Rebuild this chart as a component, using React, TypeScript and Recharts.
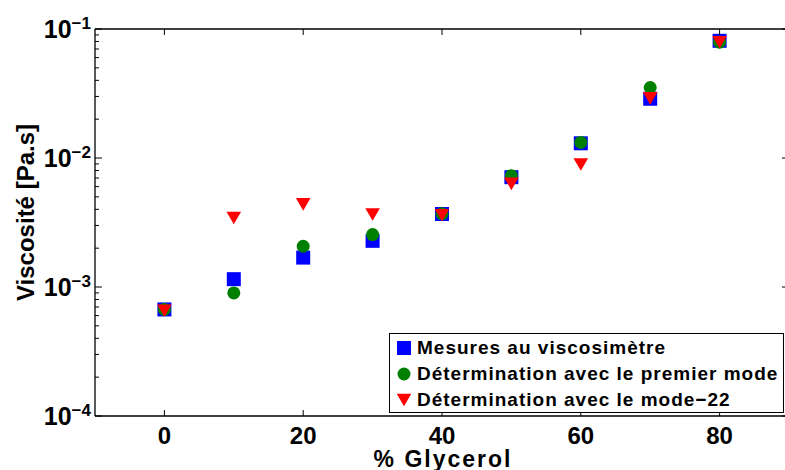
import React from "react";
import { ScatterChart, Scatter, XAxis, YAxis, Legend } from "recharts";

// % glycerol in the mixture
const glycerol = [0, 10, 20, 30, 40, 50, 60, 70, 80];

// viscosity in Pa.s
const viscosimetre = [6.7e-4, 1.15e-3, 1.69e-3, 2.28e-3, 3.68e-3, 7.1e-3, 1.3e-2, 2.88e-2, 8.1e-2];
const premierMode = [6.7e-4, 9.0e-4, 2.07e-3, 2.55e-3, 3.7e-3, 7.3e-3, 1.32e-2, 3.52e-2, 7.9e-2];
const mode22 = [6.55e-4, 3.43e-3, 4.37e-3, 3.65e-3, 3.6e-3, 6.3e-3, 8.9e-3, 2.9e-2, 7.9e-2];

const xTicks = [0, 20, 40, 60, 80];
const yTicks = [
  1e-4, 2e-4, 3e-4, 4e-4, 5e-4, 6e-4, 7e-4, 8e-4, 9e-4,
  1e-3, 2e-3, 3e-3, 4e-3, 5e-3, 6e-3, 7e-3, 8e-3, 9e-3,
  1e-2, 2e-2, 3e-2, 4e-2, 5e-2, 6e-2, 7e-2, 8e-2, 9e-2,
  1e-1,
];

const FONT = "'Liberation Sans', Arial, Helvetica, sans-serif";

const toPoints = (vals: number[]) => glycerol.map((x, i) => ({ x, y: vals[i] }));

const isMajor = (v: number) => {
  const l = Math.log10(v);
  return Math.abs(l - Math.round(l)) < 1e-6;
};

const Square = ({ cx, cy }: any) => (
  <rect x={cx - 7} y={cy - 7} width={14} height={14} fill="#0000ff" />
);
const Dot = ({ cx, cy }: any) => <circle cx={cx} cy={cy} r={6.5} fill="#008000" />;
const TriDown = ({ cx, cy }: any) => (
  <path d={`M${cx - 7.3},${cy - 6.3}L${cx + 7.3},${cy - 6.3}L${cx},${cy + 6.3}Z`} fill="#ff0000" />
);

const series = [
  { name: "Mesures au viscosimètre", data: toPoints(viscosimetre), shape: Square },
  { name: "Détermination avec le premier mode", data: toPoints(premierMode), shape: Dot },
  { name: "Détermination avec le mode\u221222", data: toPoints(mode22), shape: TriDown },
];

const BottomTick = ({ x, y, payload }: any) => (
  <g>
    <line x1={x} y1={y} x2={x} y2={y - 6} stroke="#000" strokeWidth={1} />
    <text x={x} y={y + 28} textAnchor="middle" fontSize={24} fontWeight="bold" fontFamily={FONT} fill="#000">
      {payload.value}
    </text>
  </g>
);

const TopTick = ({ x, y }: any) => (
  <line x1={x} y1={y} x2={x} y2={y + 6} stroke="#000" strokeWidth={1} />
);

const LeftTick = ({ x, y, payload }: any) => {
  const major = isMajor(payload.value);
  if (!major) return <line x1={x} y1={y} x2={x + 4} y2={y} stroke="#000" strokeWidth={1} />;
  const exp = Math.round(Math.log10(payload.value));
  return (
    <g>
      <line x1={x} y1={y} x2={x + 7} y2={y} stroke="#000" strokeWidth={1} />
      <text x={x - 4} y={y + 9} textAnchor="end" fontWeight="bold" fontFamily={FONT} fill="#000">
        <tspan fontSize={25}>10</tspan>
        <tspan fontSize={17} dy={-9}>{"\u2212" + Math.abs(exp)}</tspan>
      </text>
    </g>
  );
};

const RightTick = ({ x, y, payload }: any) => {
  const len = isMajor(payload.value) ? 7 : 4;
  return <line x1={x} y1={y} x2={x - len} y2={y} stroke="#000" strokeWidth={1} />;
};

const LegendBox = () => (
  <div
    style={{
      width: 395,
      height: 80,
      boxSizing: "border-box",
      border: "1.3px solid #000",
      background: "#fff",
      paddingTop: 1,
      fontFamily: FONT,
      fontWeight: "bold",
      fontSize: 19,
      letterSpacing: 1,
      color: "#000",
    }}
  >
    {series.map((s) => {
      const Shape = s.shape;
      return (
        <div key={s.name} style={{ display: "flex", alignItems: "center", height: 26, whiteSpace: "nowrap" }}>
          <svg width={16} height={16} style={{ marginLeft: 6, marginRight: 5, flex: "none" }}>
            <Shape cx={8} cy={8} />
          </svg>
          <span style={{ lineHeight: "26px" }}>{s.name}</span>
        </div>
      );
    })}
  </div>
);

export default function App() {
  return (
    <div style={{ position: "relative", width: 785, height: 470, overflow: "hidden", background: "#fff" }}>
      <style>{`body{margin:0}`}</style>
      <ScatterChart width={800} height={470} margin={{ top: 28, right: 10, bottom: 53, left: 94 }}>
        <XAxis
          xAxisId="b"
          type="number"
          dataKey="x"
          domain={[-10, 90]}
          allowDataOverflow
          ticks={xTicks}
          interval={0}
          height={1}
          tickSize={0}
          tickMargin={0}
          tickLine={false}
          axisLine={{ stroke: "#000", strokeWidth: 1.3 }}
          tick={(p: any) => <BottomTick {...p} />}
        />
        <XAxis
          xAxisId="t"
          orientation="top"
          type="number"
          dataKey="x"
          domain={[-10, 90]}
          allowDataOverflow
          ticks={xTicks}
          interval={0}
          height={1}
          tickSize={0}
          tickMargin={0}
          tickLine={false}
          axisLine={{ stroke: "#000", strokeWidth: 1.3 }}
          tick={(p: any) => <TopTick {...p} />}
        />
        <YAxis
          yAxisId="l"
          type="number"
          dataKey="y"
          scale="log"
          domain={[1e-4, 1e-1]}
          allowDataOverflow
          ticks={yTicks}
          interval={0}
          width={1}
          tickSize={0}
          tickMargin={0}
          tickLine={false}
          axisLine={{ stroke: "#000", strokeWidth: 1.3 }}
          tick={(p: any) => <LeftTick {...p} />}
        />
        <YAxis
          yAxisId="r"
          orientation="right"
          type="number"
          dataKey="y"
          scale="log"
          domain={[1e-4, 1e-1]}
          allowDataOverflow
          ticks={yTicks}
          interval={0}
          width={1}
          tickSize={0}
          tickMargin={0}
          tickLine={false}
          axisLine={{ stroke: "#000", strokeWidth: 1.3 }}
          tick={(p: any) => <RightTick {...p} />}
        />
        {series.map((s) => (
          <Scatter
            key={s.name}
            name={s.name}
            data={s.data}
            xAxisId="b"
            yAxisId="l"
            shape={(p: any) => <s.shape {...p} />}
            isAnimationActive={false}
          />
        ))}
        <Legend
          layout="vertical"
          align="center"
          verticalAlign="middle"
          wrapperStyle={{ position: "absolute", left: 389, top: 333, width: 395, height: 80 }}
          content={() => <LegendBox />}
        />
        <text
          x={443}
          y={467}
          textAnchor="middle"
          fontSize={23}
          fontWeight="bold"
          letterSpacing={2}
          fontFamily={FONT}
          fill="#000"
        >
          % Glycerol
        </text>
        <text
          transform="translate(33.5,212.5) rotate(-90)"
          textAnchor="middle"
          fontSize={24}
          fontWeight="bold"
          fontFamily={FONT}
          fill="#000"
        >
          Viscosité [Pa.s]
        </text>
      </ScatterChart>
    </div>
  );
}
